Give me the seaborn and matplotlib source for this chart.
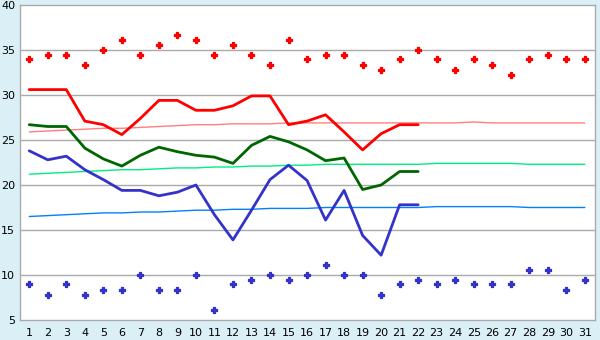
import numpy as np
import pandas as pd
import matplotlib
matplotlib.use("Agg")
import matplotlib.pyplot as plt
import seaborn as sns

days = list(range(1, 32))

# daily maximum / minimum (points)
max_points = [34.0, 34.4, 34.4, 33.3, 35.0, 36.1, 34.4, 35.6, 36.7, 36.1,
              34.4, 35.6, 34.4, 33.3, 36.1, 34.0, 34.4, 34.4, 33.3, 32.8,
              34.0, 35.0, 34.0, 32.8, 34.0, 33.3, 32.2, 34.0, 34.4, 34.0, 34.0]
min_points = [9.0, 7.8, 9.0, 7.8, 8.3, 8.3, 10.0, 8.3, 8.3, 10.0,
              6.1, 9.0, 9.4, 10.0, 9.4, 10.0, 11.1, 10.0, 10.0, 7.8,
              9.0, 9.4, 9.0, 9.4, 9.0, 9.0, 9.0, 10.6, 10.6, 8.3, 9.4]

# observed lines (days 1-22)
obs_days = list(range(1, 23))
obs_max = [30.6, 30.6, 30.6, 27.1, 26.7, 25.6, 27.4, 29.4, 29.4, 28.3, 28.3,
           28.8, 29.9, 29.9, 26.7, 27.1, 27.8, 25.9, 23.9, 25.7, 26.7, 26.7]
obs_mean = [26.7, 26.5, 26.5, 24.1, 22.9, 22.1, 23.3, 24.2, 23.7, 23.3, 23.1,
            22.4, 24.4, 25.4, 24.8, 23.9, 22.7, 23.0, 19.5, 20.0, 21.5, 21.5]
obs_min = [23.8, 22.8, 23.2, 21.7, 20.6, 19.4, 19.4, 18.8, 19.2, 20.0, 16.7,
           13.9, 17.2, 20.6, 22.2, 20.5, 16.1, 19.4, 14.4, 12.2, 17.8, 17.8]

# normals (days 1-31)
norm_max = [25.9, 26.0, 26.1, 26.2, 26.3, 26.3, 26.4, 26.5, 26.6, 26.7,
            26.7, 26.8, 26.8, 26.8, 26.9, 26.9, 26.9, 26.9, 26.9, 26.9,
            26.9, 26.9, 26.9, 26.9, 27.0, 26.9, 26.9, 26.9, 26.9, 26.9, 26.9]
norm_mean = [21.2, 21.3, 21.4, 21.5, 21.6, 21.7, 21.7, 21.8, 21.9, 21.9,
             22.0, 22.0, 22.1, 22.1, 22.2, 22.2, 22.3, 22.3, 22.3, 22.3,
             22.3, 22.3, 22.4, 22.4, 22.4, 22.4, 22.4, 22.3, 22.3, 22.3, 22.3]
norm_min = [16.5, 16.6, 16.7, 16.8, 16.9, 16.9, 17.0, 17.0, 17.1, 17.2,
            17.2, 17.3, 17.3, 17.4, 17.4, 17.4, 17.5, 17.5, 17.5, 17.5,
            17.5, 17.5, 17.6, 17.6, 17.6, 17.6, 17.6, 17.5, 17.5, 17.5, 17.5]

y_ticks = [5, 10, 15, 20, 25, 30, 35, 40]

sns.set_style("white")
plt.rcParams['font.family'] = ['DejaVu Sans']

fig = plt.figure(figsize=(6, 3.4), dpi=100, facecolor="#daeff6")
ax = fig.add_axes([20 / 600, 1 - 320 / 340, 575 / 600, 315 / 340])
ax.set_facecolor("white")

grid_col = "#aaaaaa"
for v in y_ticks[1:-1]:
    ax.axhline(v, color=grid_col, lw=1, zorder=0)

# normals
sns.lineplot(x=days, y=norm_max, ax=ax, color="#ff8080", lw=1)
sns.lineplot(x=days, y=norm_mean, ax=ax, color="#00ee80", lw=1)
sns.lineplot(x=days, y=norm_min, ax=ax, color="#0080ff", lw=1)

# observed
sns.lineplot(x=obs_days, y=obs_max, ax=ax, color="#ff0000", lw=2)
sns.lineplot(x=obs_days, y=obs_mean, ax=ax, color="#006600", lw=2)
sns.lineplot(x=obs_days, y=obs_min, ax=ax, color="#3333cc", lw=2)

# extremes
sns.scatterplot(x=days, y=max_points, ax=ax, color="#ff0000", marker="P",
                s=14, edgecolor="#ff0000", linewidth=0.9)
sns.scatterplot(x=days, y=min_points, ax=ax, color="#3333cc", marker="P",
                s=14, edgecolor="#3333cc", linewidth=0.9)

ax.set_xlim(0.5, 31.55)
ax.set_ylim(5, 40)
ax.set_xticks(days)
ax.set_yticks(y_ticks)
ax.tick_params(axis="x", labelsize=8, color="#555555", length=4,
               width=1, pad=2, labelcolor="black")
ax.tick_params(axis="y", labelsize=8, color="#555555", length=2.5,
               width=1, pad=1, labelcolor="black")
for s in ax.spines.values():
    s.set_color(grid_col)
    s.set_linewidth(1)

fig.savefig("out.png", dpi=100, facecolor=fig.get_facecolor())
